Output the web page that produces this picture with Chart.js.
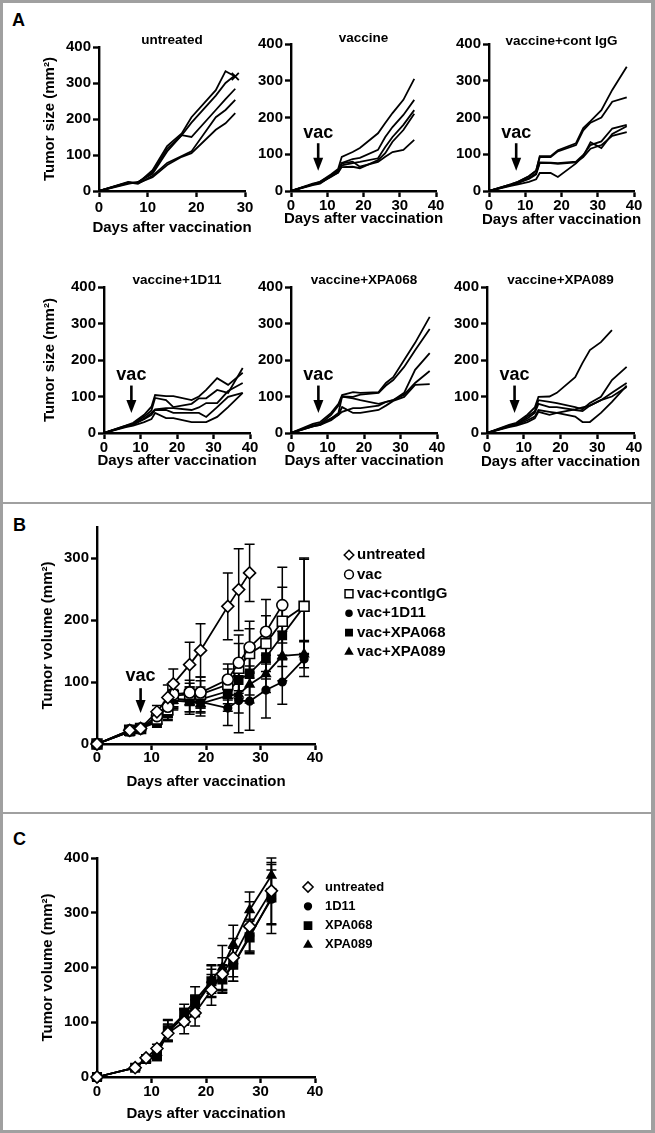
<!DOCTYPE html>
<html>
<head>
<meta charset="utf-8">
<script src="https://cdn.jsdelivr.net/npm/chart.js@4.4.1/dist/chart.umd.min.js"></script>
<style>
  html, body { margin: 0; padding: 0; background: #fff; }
  #fig { position: relative; width: 655px; height: 1133px; overflow: hidden; background: #fff; }
  #fig canvas { position: absolute; }
  .frame { position: absolute; left: 0; top: 0; width: 655px; height: 1133px; box-sizing: border-box;
           border: 3px solid #a0a0a0; border-right-width: 4px; }
  .sep { position: absolute; left: 0; width: 655px; height: 2px; background: #a0a0a0; }
  .tag { position: absolute; font: bold 18px/18px "Liberation Sans", Arial, sans-serif; color: #000; }
</style>
</head>
<body>
<div id="fig">
  <div class="frame"></div>
  <div class="sep" style="top:502px"></div>
  <div class="sep" style="top:812px"></div>
  <div class="tag" style="left:12px;top:11px">A</div>
  <div class="tag" style="left:13px;top:516px">B</div>
  <div class="tag" style="left:13px;top:830px">C</div>
</div>
<script>
// ---- panel A: single mice ----
const daysUntreated = [0, 6, 8, 11, 14, 17, 19, 24, 26, 28];
const daysA = [0, 6, 8, 11, 13, 14, 17, 19, 24, 26, 28, 31, 34, 38];

const miceUntreated = [
  [0, 25, 22, 58, 125, 160, 205, 280, 333, 318],
  [0, 22, 24, 52, 117, 155, 190, 265, 300, 322],
  [0, 20, 25, 48, 110, 155, 150, 225, 255, 284],
  [0, 24, 20, 42, 78, 97, 110, 205, 225, 253],
  [0, 23, 22, 38, 72, 95, 105, 170, 188, 216]
];
const miceVaccine = [
  [0, 18, 25, 45, 60, 93, 106, 117, 157, 185, 212, 248, 305],
  [0, 18, 22, 40, 55, 76, 87, 90, 112, 147, 174, 207, 248],
  [0, 18, 22, 38, 50, 70, 76, 79, 89, 120, 147, 180, 220],
  [0, 16, 20, 40, 50, 65, 66, 62, 84, 103, 134, 166, 210],
  [0, 20, 25, 42, 55, 75, 80, 66, 79, 93, 106, 112, 139]
];
const miceContIgG = [
  [0, 18, 25, 40, 55, 95, 95, 111, 130, 171, 190, 220, 275, 338],
  [0, 18, 25, 40, 55, 92, 92, 108, 125, 165, 186, 200, 243, 255],
  [0, 16, 22, 35, 48, 78, 77, 76, 80, 98, 125, 135, 170, 180],
  [0, 14, 18, 25, 32, 49, 49, 38, 75, 95, 133, 117, 155, 176],
  [0, 16, 22, 33, 45, 76, 76, 74, 78, 92, 115, 125, 150, 160]
];
const mice1D11 = [
  [0, 20, 28, 50, 72, 104, 101, 101, 90, 100, 118, 150, 132, 165],
  [0, 18, 25, 45, 62, 96, 90, 71, 80, 95, 95, 118, 110, 178],
  [0, 18, 22, 40, 55, 65, 68, 68, 63, 70, 82, 82, 115, 137],
  [0, 20, 24, 38, 50, 63, 63, 55, 55, 55, 44, 71, 99, 110],
  [0, 16, 20, 30, 38, 55, 41, 41, 30, 30, 30, 44, 71, 110]
];
const miceXPA068 = [
  [0, 25, 30, 55, 80, 104, 112, 110, 112, 137, 153, 200, 247, 318],
  [0, 20, 25, 50, 75, 100, 99, 105, 110, 130, 145, 181, 227, 285],
  [0, 18, 22, 40, 55, 100, 95, 90, 80, 85, 90, 110, 173, 219],
  [0, 18, 22, 35, 50, 58, 68, 68, 75, 85, 90, 105, 137, 170],
  [0, 20, 25, 40, 50, 71, 55, 55, 63, 75, 88, 99, 132, 134]
];
const miceXPA089 = [
  [0, 22, 28, 50, 70, 99, 100, 110, 153, 192, 227, 249, 282],
  [0, 18, 24, 45, 60, 90, 85, 82, 71, 65, 82, 99, 145, 181],
  [0, 20, 24, 40, 55, 80, 71, 71, 63, 60, 75, 90, 110, 137],
  [0, 18, 22, 35, 45, 63, 58, 55, 45, 30, 30, 55, 85, 130],
  [0, 16, 20, 30, 40, 58, 50, 55, 65, 70, 75, 90, 100, 126]
];

// ---- panel B: group means +- SEM ----
const daysB = [0, 6, 8, 11, 13, 14, 17, 19, 24, 26, 28, 31, 34, 38];
const groupsB = ['untreated', 'vac', 'vac+contIgG', 'vac+1D11', 'vac+XPA068', 'vac+XPA089'];
const untreatedB = [0, 22, 25, 52, 75, 97, 128, 151, 222, 249, 276];
const untreatedErrB = [0, 3, 3, 10, 20, 24, 36, 43, 54, 66, 46];
const vacB = [0, 22, 25, 45, 60, 80, 83, 83, 104, 131, 156, 181, 224];
const vacErrB = [0, 3, 3, 10, 15, 20, 20, 25, 25, 45, 42, 52, 61];
const contB = [0, 22, 25, 40, 55, 78, 80, 80, 96, 122, 146, 162, 198, 222];
const contErrB = [0, 3, 3, 8, 12, 18, 18, 22, 25, 40, 40, 45, 55, 78];
const d11B = [0, 20, 25, 40, 55, 73, 70, 68, 58, 70, 69, 87, 100, 137];
const d11ErrB = [0, 3, 3, 8, 12, 15, 18, 18, 28, 52, 47, 45, 36, 28];
const x068B = [0, 20, 25, 35, 50, 72, 72, 72, 85, 103, 114, 140, 175, 222];
const x068ErrB = [0, 3, 3, 8, 12, 15, 20, 20, 20, 30, 35, 35, 50, 76];
const x089B = [0, 20, 25, 38, 52, 70, 68, 65, 78, 80, 96, 113, 142, 145];
const x089ErrB = [0, 3, 3, 8, 12, 15, 20, 20, 25, 30, 30, 30, 40, 22];

// ---- panel C ----
const daysC = [0, 7, 9, 11, 13, 16, 18, 21, 23, 25, 28, 32];
const groupsC = ['untreated', '1D11', 'XPA068', 'XPA089'];
const untreatedC = [0, 17, 35, 52, 80, 101, 117, 159, 188, 218, 275, 340];
const untreatedErrC = [0, 3, 4, 8, 15, 22, 24, 28, 30, 35, 45, 60];
const d11C = [0, 17, 33, 40, 82, 110, 130, 172, 180, 205, 258, 325];
const d11ErrC = [0, 3, 4, 8, 15, 15, 18, 25, 25, 30, 30, 63];
const x068C = [0, 17, 33, 38, 85, 115, 140, 175, 178, 205, 255, 328];
const x068ErrC = [0, 3, 4, 8, 18, 18, 25, 30, 25, 30, 30, 50];
const x089C = [0, 17, 33, 45, 85, 110, 130, 178, 200, 242, 305, 368];
const x089ErrC = [0, 3, 4, 8, 20, 15, 20, 25, 40, 35, 33, 24];

const FONT = '"Liberation Sans", Arial, Helvetica, sans-serif';
const X_TITLE = 'Days after vaccination';
Chart.defaults.font.family = FONT;
Chart.defaults.font.weight = 'bold';
Chart.defaults.color = '#000';

const fig = document.getElementById('fig');

// vertical SEM bars with caps
const errorBars = {
  id: 'errorBars',
  beforeDatasetsDraw(chart, args, o) {
    const {ctx, scales: {x, y}} = chart;
    ctx.save();
    ctx.strokeStyle = '#000';
    ctx.lineWidth = 1.5;
    chart.data.datasets.forEach(ds => {
      if (!ds.errors) return;
      ds.data.forEach((p, i) => {
        const e = ds.errors[i];
        if (!e) return;
        const px = x.getPixelForValue(p.x);
        const y1 = y.getPixelForValue(p.y + e);
        const y2 = y.getPixelForValue(p.y - e);
        ctx.beginPath();
        ctx.moveTo(px, y1); ctx.lineTo(px, y2);
        ctx.moveTo(px - o.cap, y1); ctx.lineTo(px + o.cap, y1);
        ctx.moveTo(px - o.cap, y2); ctx.lineTo(px + o.cap, y2);
        ctx.stroke();
      });
    });
    ctx.restore();
  }
};

// "vac" arrow at the vaccination day
const vacArrow = {
  id: 'vacArrow',
  afterDatasetsDraw(chart, args, o) {
    if (o.day === undefined) return;
    const {ctx, scales: {x, y}} = chart;
    const px = x.getPixelForValue(o.day);
    const yTop = y.getPixelForValue(o.from);
    const yTip = y.getPixelForValue(o.to);
    ctx.save();
    ctx.strokeStyle = '#000';
    ctx.fillStyle = '#000';
    ctx.lineWidth = 2.6;
    ctx.beginPath();
    ctx.moveTo(px, yTop); ctx.lineTo(px, yTip - 10);
    ctx.stroke();
    ctx.beginPath();
    ctx.moveTo(px - 5, yTip - 13); ctx.lineTo(px + 5, yTip - 13); ctx.lineTo(px, yTip);
    ctx.closePath();
    ctx.fill();
    ctx.font = 'bold 18px ' + FONT;
    ctx.textAlign = 'center';
    ctx.textBaseline = 'middle';
    ctx.fillText('vac', px, y.getPixelForValue(o.label));
    ctx.restore();
  }
};

// x caption for the small panels (wider than their axes, so the axis title would squeeze it)
const caption = {
  id: 'caption',
  afterDraw(chart, args, o) {
    if (!o.text) return;
    const {ctx, chartArea} = chart;
    ctx.save();
    ctx.font = 'bold 15px ' + FONT;
    ctx.fillStyle = '#000';
    ctx.textAlign = 'center';
    ctx.textBaseline = 'middle';
    ctx.fillText(o.text, (chartArea.left + chartArea.right) / 2, o.y);
    ctx.restore();
  }
};

// symbol key to the right of the plot
const key = {
  id: 'key',
  afterDraw(chart, args, o) {
    if (o.x === undefined) return;
    const ctx = chart.ctx;
    ctx.save();
    chart.data.datasets.forEach((ds, i) => {
      const cy = o.y + i * o.dy;
      ctx.fillStyle = ds.backgroundColor;
      ctx.strokeStyle = '#000';
      ctx.lineWidth = 1.5;
      Chart.helpers.drawPoint(ctx, {pointStyle: ds.pointStyle, radius: ds.pointRadius * o.scale, borderWidth: 1.5, rotation: 0}, o.x, cy);
      ctx.fillStyle = '#000';
      ctx.font = 'bold ' + o.size + 'px ' + FONT;
      ctx.textAlign = 'left';
      ctx.textBaseline = 'middle';
      ctx.fillText(ds.label, o.textX, cy);
    });
    ctx.restore();
  }
};

function makeChart(g, datasets) {
  const cl = Math.round(g.yTitle ? g.yTitleX - 9 : g.l - 45);
  const ct = Math.round(g.title ? g.titleY - 12.75 : g.t - 15);
  const cb = Math.round(g.xTitleY + 9);
  const cr = g.canvasRight || g.r + 14;
  const w = cr - cl, h = cb - ct;
  const canvas = document.createElement('canvas');
  canvas.width = w; canvas.height = h;
  canvas.style.left = cl + 'px'; canvas.style.top = ct + 'px';
  canvas.style.width = w + 'px'; canvas.style.height = h + 'px';
  fig.appendChild(canvas);

  const yW = g.l - cl, xH = cb - g.b;
  const tickFont = {size: 15, weight: 'bold'};
  const axisGrid = {display: true, drawOnChartArea: false, drawTicks: true, tickLength: 6, tickWidth: 2.4, tickColor: '#000'};
  const axisBorder = {display: true, color: '#000', width: 2.4};

  new Chart(canvas, {
    type: 'line',
    data: {datasets},
    options: {
      responsive: false,
      animation: false,
      events: [],
      layout: {padding: {left: 0, right: cr - g.r, top: g.title ? 0 : g.t - ct, bottom: 0}},
      scales: {
        x: {
          type: 'linear', min: 0, max: g.xMax,
          afterFit: s => { s.height = xH; },
          border: axisBorder, grid: axisGrid,
          ticks: {stepSize: 10, padding: g.tickPad || 0, font: tickFont, color: '#000', maxRotation: 0, autoSkip: false},
          title: {display: !g.small, text: X_TITLE, font: {size: 15, weight: 'bold'}, padding: 0, color: '#000'}
        },
        y: {
          min: 0, max: g.yMax,
          afterFit: s => { s.width = yW; },
          border: axisBorder, grid: axisGrid,
          ticks: {stepSize: 100, padding: 2, includeBounds: false, font: tickFont, color: '#000'},
          title: {display: !!g.yTitle, text: g.yTitle || '', font: {size: 15, weight: 'bold'}, padding: 0, color: '#000'}
        }
      },
      plugins: {
        legend: {display: false},
        tooltip: {enabled: false},
        title: {
          display: !!g.title, text: g.title || '', fullSize: false, color: '#000',
          font: {size: 13.5, weight: 'bold', lineHeight: 1},
          padding: g.title ? {top: (g.titleY - 6.75) - ct, bottom: g.t - (g.titleY + 6.75)} : 0
        },
        errorBars: {cap: g.cap || 5},
        vacArrow: g.arrow || {},
        caption: g.small ? {text: X_TITLE, y: g.xTitleY - ct} : {},
        key: g.key ? {x: g.key.x - cl, textX: g.key.textX - cl, y: g.key.y - ct, dy: g.key.dy, size: g.key.size, scale: g.key.scale} : {}
      }
    },
    plugins: [errorBars, vacArrow, caption, key]
  });
}

function miceLines(rows, days) {
  return rows.map(vals => ({
    data: vals.map((v, i) => ({x: days[i], y: v})),
    borderColor: '#000', borderWidth: 1.8, pointRadius: 0, tension: 0, fill: false
  }));
}

function group(label, days, vals, errs, style, fill, radius) {
  return {
    label, errors: errs,
    data: vals.map((v, i) => ({x: days[i], y: v})),
    borderColor: '#000', backgroundColor: fill, borderWidth: 1.8,
    pointStyle: style, pointRadius: radius, pointBackgroundColor: fill,
    pointBorderColor: '#000', pointBorderWidth: 1.6, tension: 0, clip: false
  };
}

const arrowA = {day: 7.5, from: 130, to: 55, label: 158};
const yTitleA = 'Tumor size (mm\u00B2)';

// untreated: last measured point of the first mouse marked with a cross
const untreatedSets = miceLines(miceUntreated, daysUntreated);
const lastU = miceUntreated[0].length - 1;
Object.assign(untreatedSets[0], {
  pointStyle: 'crossRot', pointBorderColor: '#000', pointBorderWidth: 1.8,
  pointRadius: c => (c.dataIndex === lastU ? 5 : 0)
});

makeChart({small: true, tickPad: 1.5, l: 99, r: 245, t: 47, b: 191, xMax: 30, yMax: 400, title: 'untreated', titleY: 40, xTitleY: 227.5, yTitle: yTitleA, yTitleX: 50}, untreatedSets);
makeChart({small: true, tickPad: -0.5, l: 291, r: 436, t: 44, b: 191, xMax: 40, yMax: 400, title: 'vaccine', titleY: 38, xTitleY: 219, arrow: arrowA}, miceLines(miceVaccine, daysA));
makeChart({small: true, tickPad: 0, l: 489, r: 634, t: 44, b: 191, xMax: 40, yMax: 400, title: 'vaccine+cont IgG', titleY: 41, xTitleY: 220, arrow: arrowA}, miceLines(miceContIgG, daysA));
makeChart({small: true, tickPad: -0.5, l: 104, r: 250, t: 287, b: 433, xMax: 40, yMax: 400, title: 'vaccine+1D11', titleY: 280, xTitleY: 461, yTitle: yTitleA, yTitleX: 50, arrow: arrowA}, miceLines(mice1D11, daysA));
makeChart({small: true, tickPad: -0.5, l: 291, r: 437, t: 287, b: 433, xMax: 40, yMax: 400, title: 'vaccine+XPA068', titleY: 280, xTitleY: 461, arrow: arrowA}, miceLines(miceXPA068, daysA));
makeChart({small: true, tickPad: -0.5, l: 487, r: 634, t: 287, b: 433, xMax: 40, yMax: 400, title: 'vaccine+XPA089', titleY: 280, xTitleY: 462, arrow: arrowA}, miceLines(miceXPA089, daysA));

makeChart({
  l: 97, r: 315, t: 527, b: 744, xMax: 40, yMax: 350, xTitleY: 782, tickPad: -1,
  yTitle: 'Tumor volume (mm\u00B2)', yTitleX: 48, canvasRight: 648, cap: 5,
  arrow: {day: 8, from: 90, to: 50, label: 109},
  key: {x: 349, textX: 357, y: 555, dy: 19.4, size: 15, scale: 0.8}
}, [
  group(groupsB[0], daysB, untreatedB, untreatedErrB, 'rectRot', '#fff', 6),
  group(groupsB[1], daysB, vacB, vacErrB, 'circle', '#fff', 5.5),
  group(groupsB[2], daysB, contB, contErrB, 'rect', '#fff', 7),
  group(groupsB[3], daysB, d11B, d11ErrB, 'circle', '#000', 3.8),
  group(groupsB[4], daysB, x068B, x068ErrB, 'rect', '#000', 5.7),
  group(groupsB[5], daysB, x089B, x089ErrB, 'triangle', '#000', 5)
]);

makeChart({
  l: 97, r: 315, t: 858, b: 1077, xMax: 40, yMax: 400, xTitleY: 1114, tickPad: 0,
  yTitle: 'Tumor volume (mm\u00B2)', yTitleX: 48, canvasRight: 648, cap: 5,
  key: {x: 308, textX: 325, y: 887, dy: 19.3, size: 13, scale: 0.85}
}, [
  group(groupsC[0], daysC, untreatedC, untreatedErrC, 'rectRot', '#fff', 6),
  group(groupsC[1], daysC, d11C, d11ErrC, 'circle', '#000', 4),
  group(groupsC[2], daysC, x068C, x068ErrC, 'rect', '#000', 6),
  group(groupsC[3], daysC, x089C, x089ErrC, 'triangle', '#000', 5)
]);
</script>
</body>
</html>
